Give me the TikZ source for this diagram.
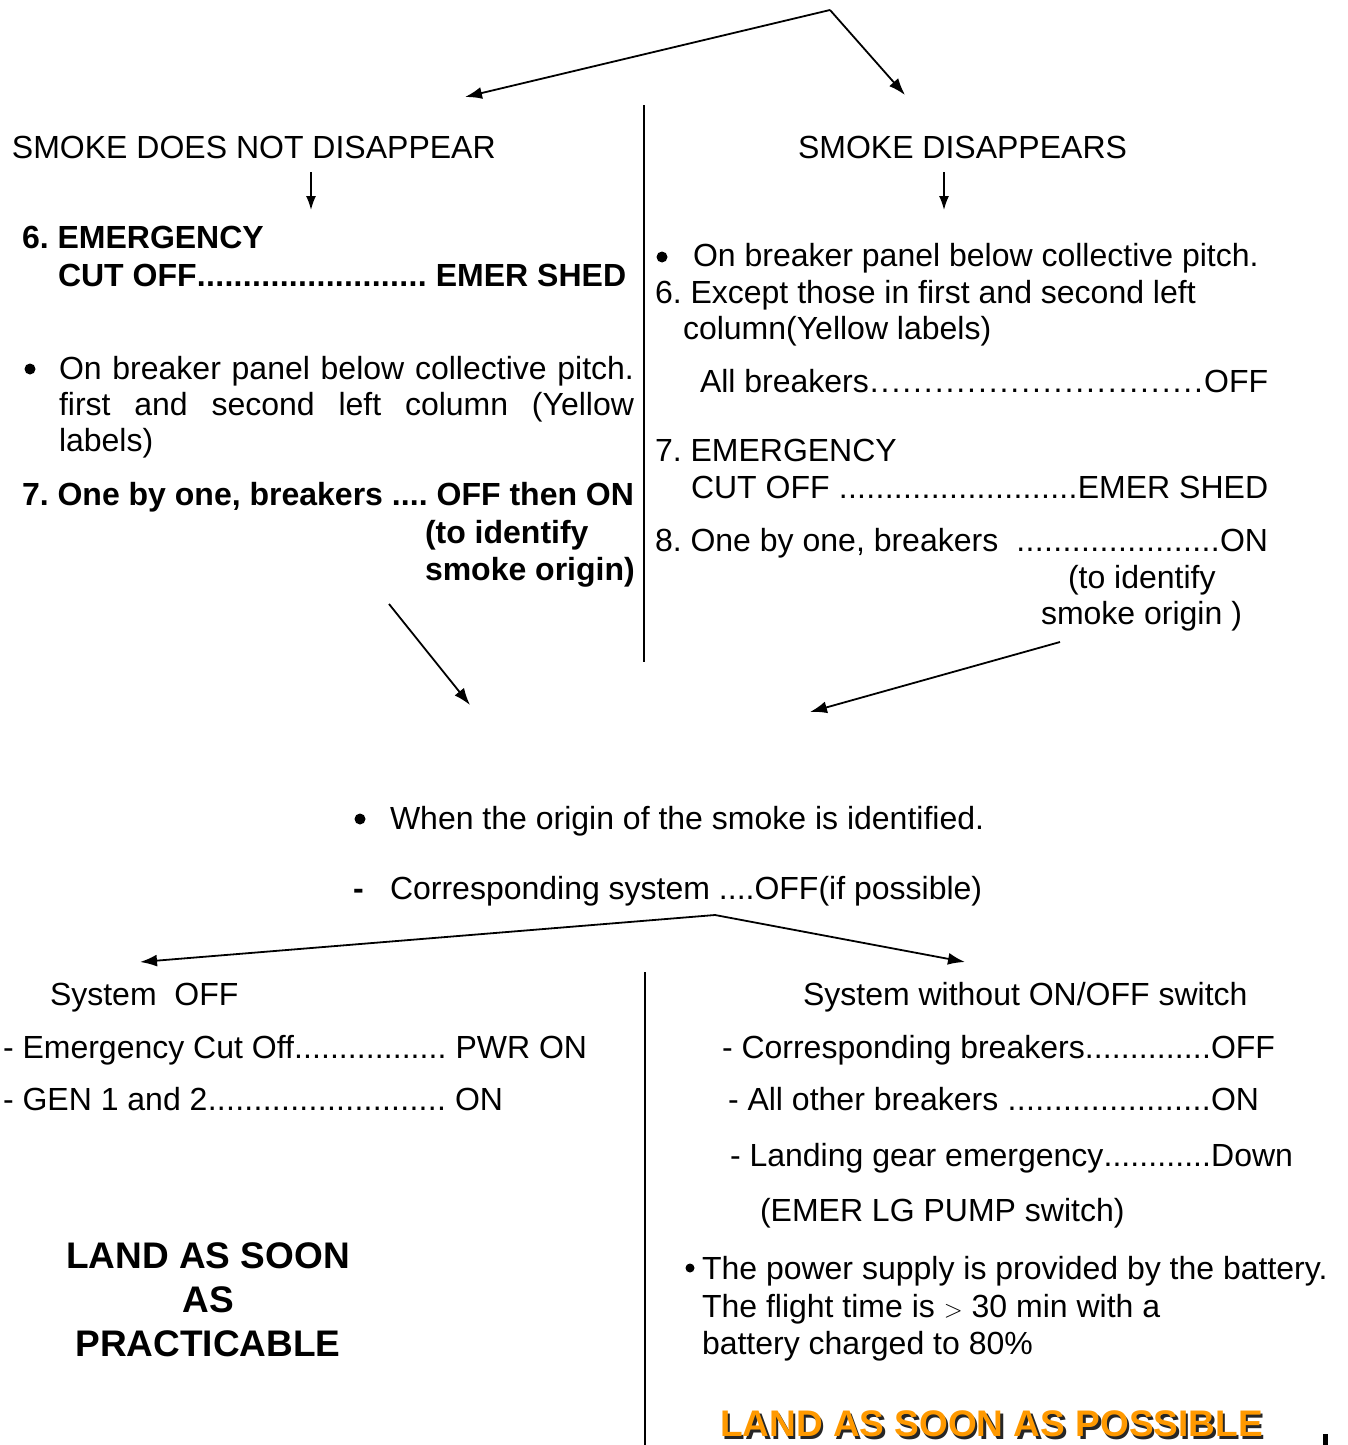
\documentclass[tikz,border=0pt]{standalone}
\usepackage{fontspec}
\setmainfont{Liberation Sans}
\usetikzlibrary{arrows.meta}
\definecolor{landorange}{RGB}{255,153,0}
\newcommand{\dfill}{\xleaders\hbox{.}\hfill}
\newcommand{\efill}{\xleaders\hbox to 10.7pt{\hss.\hss}\hfill}
\frenchspacing
\begin{document}
\begin{tikzpicture}[x=1pt,y=-1pt,
  txt/.style={anchor=base west, inner sep=0pt, outer sep=0pt, font=\frenchspacing\fontsize{32}{38}\selectfont},
  btxt/.style={txt, font=\frenchspacing\fontsize{32}{38}\selectfont\bfseries},
  bul/.style={circle, fill=black, inner sep=0pt, minimum size=11pt},
  sbul/.style={circle, fill=black, inner sep=0pt, minimum size=9pt},
  big/.style={anchor=base, inner sep=0pt, outer sep=0pt, font=\fontsize{37}{44}\selectfont\bfseries},
  conn/.style={line width=1.8pt, -{Latex[length=17pt,width=12pt]}},
  sconn/.style={line width=1.6pt, -{Latex[length=14pt,width=10pt]}},
  sep/.style={line width=1.6pt}]
\useasboundingbox (0,0) rectangle (1347,1445);

% ---- top fork
\coordinate (top) at (830,10);
\coordinate (topL) at (465,97);
\coordinate (topR) at (905,95);
\draw[conn] (top) -- (topL);
\draw[conn] (top) -- (topR);

% ---- separator upper
\coordinate (sepA1) at (644,105);
\coordinate (sepA2) at (644,662);
\draw[sep] (sepA1) -- (sepA2);

% ---- left column
\node[txt] (hL) at (12,158) {SMOKE DOES NOT DISAPPEAR};
\coordinate (aL1) at (311,172);
\coordinate (aL2) at (311,210);
\draw[sconn] (aL1) -- (aL2);
\node[btxt] (l6a) at (22,248) {6. EMERGENCY};
\node[btxt] (l6b) at (58,286) {\hbox to 568pt{CUT OFF\dfill\ EMER SHED}};
\node[bul] (lb1) at (30,369) {};
\node[txt] (lp1) at (59,379) {\hbox to 575pt{On\hfil breaker\hfil panel\hfil below\hfil collective\hfil pitch.}};
\node[txt] (lp2) at (59,415) {\hbox to 575pt{first\hfil and\hfil second\hfil left\hfil column\hfil (Yellow}};
\node[txt] (lp3) at (59,451) {labels)};
\node[btxt] (l7a) at (22,505) {\hbox to 612pt{7. One by one, breakers \dfill\ OFF then ON}};
\node[btxt] (l7b) at (425,543) {(to identify};
\node[btxt] (l7c) at (425,580) {smoke origin)};
\coordinate (dL1) at (389,604);
\coordinate (dL2) at (470,705);
\draw[conn] (dL1) -- (dL2);

% ---- right column
\node[txt] (hR) at (798,158) {SMOKE DISAPPEARS};
\coordinate (aR1) at (944,172);
\coordinate (aR2) at (944,210);
\draw[sconn] (aR1) -- (aR2);
\node[bul] (rb1) at (662,257) {};
\node[txt] (rp1) at (693,266) {On breaker panel below collective pitch.};
\node[txt] (r6a) at (655,303) {6. Except those in first and second left};
\node[txt] (r6b) at (683,339) {column(Yellow labels)};
\node[txt] (r6c) at (700,392) {\hbox to 568pt{All breakers\efill OFF}};
\node[txt] (r7a) at (655,461) {7. EMERGENCY};
\node[txt] (r7b) at (691,498) {\hbox to 577pt{CUT OFF \dfill EMER SHED}};
\node[txt] (r8a) at (655,551) {\hbox to 613pt{8. One by one, breakers\ \ \dfill ON}};
\node[txt] (r8b) at (1068,588) {(to identify};
\node[txt] (r8c) at (1041,624) {smoke origin )};
\coordinate (dR1) at (1060,642);
\coordinate (dR2) at (810,712);
\draw[conn] (dR1) -- (dR2);

% ---- middle
\node[bul] (mb) at (360,819) {};
\node[txt] (m1) at (390,829) {When the origin of the smoke is identified.};
\node[btxt] (mdash) at (353,899) {-};
\node[txt] (m2) at (390,899) {Corresponding system ....OFF(if possible)};
\coordinate (mid) at (715,915);
\coordinate (midL) at (140,962);
\coordinate (midR) at (965,962);
\draw[conn] (mid) -- (midL);
\draw[conn] (mid) -- (midR);

% ---- separator lower
\coordinate (sepB1) at (645,972);
\coordinate (sepB2) at (645,1445);
\draw[sep] (sepB1) -- (sepB2);

% ---- bottom left
\node[txt] (bl0) at (50,1005) {System\ \ OFF};
\node[txt] (bl1) at (3,1058) {\hbox to 584pt{- Emergency Cut Off\dfill\ PWR ON}};
\node[txt] (bl2) at (3,1110) {\hbox to 500pt{- GEN 1 and 2\dfill\ ON}};
\node[big] (land1) at (208,1268) {LAND AS SOON};
\node[big] (land2) at (208,1312) {AS};
\node[big] (land3) at (208,1356) {PRACTICABLE};

% ---- bottom right
\node[txt] (br0) at (803,1005) {System without ON/OFF switch};
\node[txt] (br1) at (722,1058) {\hbox to 553pt{- Corresponding breakers\dfill OFF}};
\node[txt] (br2) at (728,1110) {\hbox to 531pt{- All other breakers \dfill ON}};
\node[txt] (br3) at (730,1166) {\hbox to 563pt{- Landing gear emergency\dfill Down}};
\node[txt] (br4) at (760,1221) {(EMER LG PUMP switch)};
\node[sbul] (brb) at (690,1268) {};
\node[txt] (br5) at (702,1279) {The power supply is provided by the battery.};
\node[txt] (br6) at (702,1317) {The flight time is $>$ 30 min with a};
\node[txt] (br7) at (702,1354) {battery charged to 80\%};
\node[big, anchor=base west, text=black!85] (possS) at (722.5,1439) {LAND AS SOON AS POSSIBLE};
\node[big, anchor=base west, text=landorange] (poss) at (720,1436.5) {LAND AS SOON AS POSSIBLE};
\fill (1323,1434) rectangle (1328,1445);
\end{tikzpicture}
\end{document}
